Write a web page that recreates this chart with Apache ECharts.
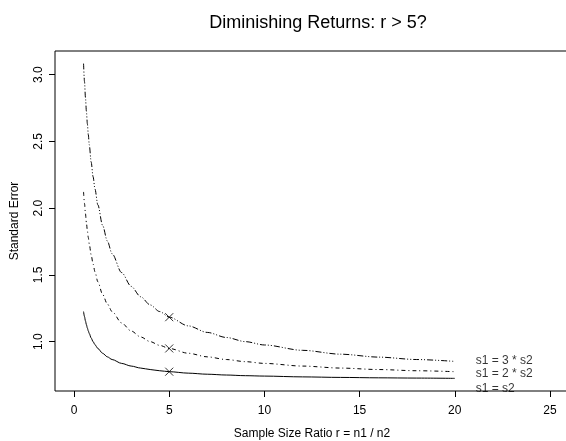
<!DOCTYPE html>
<html>
<head>
<meta charset="utf-8">
<script src="https://cdn.jsdelivr.net/npm/echarts@6/dist/echarts.min.js"></script>
<style>
  html, body { margin: 0; padding: 0; background: #fff; }
  #chart { width: 566px; height: 441px; }
</style>
</head>
<body>
<div id="chart"></div>
<script>
// sample size ratio r and standard error
var ratio = [0.5, 0.55, 0.6, 0.65, 0.7, 0.75, 0.8, 0.9, 1, 1.1, 1.25, 1.5, 1.75, 2, 2.5, 3, 3.5, 4, 4.5, 5, 6, 7, 8, 9, 10, 12, 14, 16, 18, 20];
var seEqual = [1.225, 1.187, 1.155, 1.127, 1.102, 1.080, 1.061, 1.027, 1.000, 0.977, 0.949, 0.913, 0.886, 0.866, 0.837, 0.817, 0.802, 0.791, 0.782, 0.775, 0.764, 0.756, 0.750, 0.745, 0.742, 0.736, 0.732, 0.729, 0.727, 0.725];
var seTwice = [2.121, 2.034, 1.958, 1.891, 1.832, 1.780, 1.732, 1.650, 1.581, 1.523, 1.449, 1.354, 1.282, 1.225, 1.140, 1.080, 1.035, 1.000, 0.972, 0.949, 0.913, 0.886, 0.866, 0.850, 0.837, 0.817, 0.802, 0.791, 0.782, 0.775];
var seThrice = [3.082, 2.947, 2.828, 2.725, 2.632, 2.550, 2.475, 2.345, 2.236, 2.143, 2.025, 1.871, 1.753, 1.658, 1.517, 1.414, 1.336, 1.275, 1.225, 1.183, 1.118, 1.069, 1.031, 1.000, 0.975, 0.935, 0.906, 0.884, 0.866, 0.852];

// the crosses at r = 5
var markR = 5;
var markSE = [0.775, 0.949, 1.183];

var curveNames = ['s1 = s2', 's1 = 2 * s2', 's1 = 3 * s2'];
var labelY = [0.651, 0.760, 0.855];
var labelR = 21.1;

var xTicks = [0, 5, 10, 15, 20, 25];
var yTicks = [1.0, 1.5, 2.0, 2.5, 3.0];

var font = 'Liberation Sans, Arial, sans-serif';

function pairs(xs, ys) {
    return xs.map(function (x, i) { return [x, ys[i]]; });
}

function curve(values, dash) {
    return {
        type: 'line',
        data: pairs(ratio, values),
        smooth: 0.3,
        smoothMonotone: 'x',
        showSymbol: false,
        lineStyle: { color: '#000', width: 1, type: dash },
        silent: true,
        z: 2,
    };
}

var chart = echarts.init(document.getElementById('chart'));

chart.setOption({
    animation: false,
    backgroundColor: '#fff',
    title: {
        text: 'Diminishing Returns: r > 5?',
        left: 313,
        top: 9,
        textAlign: 'center',
        textStyle: { fontFamily: font, fontSize: 18, fontWeight: 'normal', color: '#000' },
    },
    grid: {
        left: 55,
        right: -3,
        top: 51,
        bottom: 50,
        containLabel: false,
        outerBoundsMode: 'none',
        show: true,
        borderColor: '#000',
        borderWidth: 1,
    },
    xAxis: {
        type: 'value',
        min: -1,
        max: 26,
        splitLine: { show: false },
        axisLine: { show: false, onZero: false },
        axisTick: { show: true, customValues: xTicks, length: 6, inside: false, lineStyle: { color: '#000' } },
        axisLabel: { customValues: xTicks, margin: 14, fontFamily: font, fontSize: 12, color: '#000' },
        name: 'Sample Size Ratio r = n1 / n2',
        nameLocation: 'middle',
        nameGap: 37,
        nameTextStyle: { fontFamily: font, fontSize: 12, color: '#000' },
    },
    yAxis: {
        type: 'value',
        min: 0.6303,
        max: 3.1765,
        splitLine: { show: false },
        axisLine: { show: false, onZero: false },
        axisTick: { show: true, customValues: yTicks, length: 6, inside: false, lineStyle: { color: '#000' } },
        axisLabel: {
            customValues: yTicks,
            rotate: 90,
            margin: 10,
            fontFamily: font,
            fontSize: 12,
            color: '#000',
            formatter: function (v) { return v.toFixed(1); },
        },
        name: 'Standard Error',
        nameLocation: 'middle',
        nameGap: 34,
        nameTextStyle: { fontFamily: font, fontSize: 12, color: '#000' },
    },
    series: [
        curve(seEqual, 'solid'),
        curve(seTwice, [4, 3, 1, 3]),
        curve(seThrice, [6, 2, 1, 2, 1, 2]),
        {
            type: 'scatter',
            data: markSE.map(function (v) { return [markR, v]; }),
            symbol: 'path://M0,0L10,10M10,0L0,10',
            symbolSize: 8,
            itemStyle: { color: 'transparent', borderColor: '#000', borderWidth: 1 },
            silent: true,
            z: 3,
        },
        {
            type: 'scatter',
            data: labelY.map(function (v, i) { return { value: [labelR, v], name: curveNames[i] }; }),
            symbolSize: 0,
            label: {
                show: true,
                position: 'right',
                distance: 0,
                formatter: '{b}',
                fontFamily: font,
                fontSize: 12,
                color: '#000',
            },
            silent: true,
        },
    ],
});
</script>
</body>
</html>
